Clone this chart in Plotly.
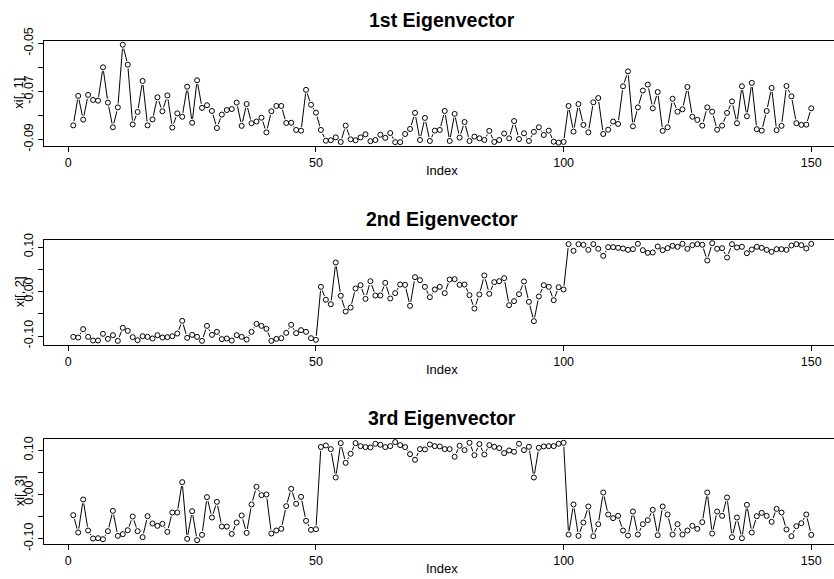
import plotly.graph_objects as go

index = list(range(1, 151))

ev1 = [
    -0.0842, -0.0719, -0.0818, -0.0715, -0.0736, -0.0739, -0.0600, -0.0747, -0.0850, -0.0767,
    -0.0506, -0.0589, -0.0838, -0.0786, -0.0657, -0.0842, -0.0817, -0.0725, -0.0783, -0.0717,
    -0.0851, -0.0792, -0.0806, -0.0681, -0.0831, -0.0654, -0.0769, -0.0758, -0.0782, -0.0853,
    -0.0797, -0.0778, -0.0774, -0.0747, -0.0844, -0.0753, -0.0833, -0.0826, -0.0810, -0.0871,
    -0.0783, -0.0761, -0.0761, -0.0832, -0.0831, -0.0861, -0.0864, -0.0694, -0.0756, -0.0789,
    -0.0861, -0.0906, -0.0904, -0.0892, -0.0911, -0.0843, -0.0900, -0.0904, -0.0892, -0.0879,
    -0.0908, -0.0903, -0.0881, -0.0894, -0.0874, -0.0912, -0.0912, -0.0878, -0.0857, -0.0790,
    -0.0903, -0.0811, -0.0907, -0.0864, -0.0861, -0.0782, -0.0907, -0.0794, -0.0893, -0.0828,
    -0.0907, -0.0889, -0.0896, -0.0903, -0.0865, -0.0911, -0.0903, -0.0876, -0.0896, -0.0824,
    -0.0899, -0.0875, -0.0907, -0.0869, -0.0850, -0.0882, -0.0864, -0.0910, -0.0914, -0.0911,
    -0.0761, -0.0868, -0.0753, -0.0840, -0.0871, -0.0746, -0.0728, -0.0878, -0.0860, -0.0826,
    -0.0836, -0.0679, -0.0617, -0.0846, -0.0767, -0.0697, -0.0672, -0.0771, -0.0703, -0.0865,
    -0.0850, -0.0731, -0.0785, -0.0775, -0.0682, -0.0806, -0.0819, -0.0843, -0.0767, -0.0785,
    -0.0860, -0.0843, -0.0790, -0.0742, -0.0833, -0.0679, -0.0804, -0.0665, -0.0858, -0.0864,
    -0.0782, -0.0686, -0.0862, -0.0844, -0.0678, -0.0721, -0.0833, -0.0840, -0.0839, -0.0771,
]

ev2 = [
    -0.1019, -0.1034, -0.0846, -0.1019, -0.1101, -0.1101, -0.0951, -0.1064, -0.0981, -0.1109,
    -0.0816, -0.0884, -0.1026, -0.1094, -0.1004, -0.1019, -0.1056, -0.0981, -0.1034, -0.1026,
    -0.1004, -0.0944, -0.0659, -0.1041, -0.0974, -0.1019, -0.1109, -0.0772, -0.0974, -0.0906,
    -0.1071, -0.1056, -0.1101, -0.0981, -0.1019, -0.1079, -0.0906, -0.0727, -0.0772, -0.0839,
    -0.1109, -0.1064, -0.1049, -0.0929, -0.0749, -0.0936, -0.0869, -0.0906, -0.1049, -0.1086,
    0.0105, -0.0185, -0.0285, 0.0652, -0.0097, -0.0449, -0.0360, 0.0067, 0.0142, -0.0165,
    0.0232, -0.0090, -0.0090, 0.0195, -0.0157, -0.0037, 0.0157, 0.0150, -0.0322, 0.0322,
    0.0255, 0.0105, -0.0127, 0.0045, 0.0105, -0.0037, 0.0270, 0.0277, 0.0150, 0.0157,
    -0.0082, -0.0382, -0.0067, 0.0360, -0.0052, 0.0210, 0.0232, 0.0300, -0.0307, -0.0217,
    -0.0060, 0.0225, -0.0232, -0.0667, -0.0112, 0.0142, 0.0105, -0.0195, 0.0097, 0.0045,
    0.1064, 0.0914, 0.1064, 0.1049, 0.0936, 0.1064, 0.0959, 0.0801, 0.0996, 0.0996,
    0.0981, 0.0966, 0.0936, 0.0951, 0.1071, 0.0929, 0.0869, 0.0876, 0.1011, 0.0929,
    0.0974, 0.1026, 0.1004, 0.1071, 0.0959, 0.1041, 0.1064, 0.1049, 0.0697, 0.1086,
    0.0959, 0.0974, 0.0764, 0.1064, 0.0989, 0.1004, 0.0861, 0.0944, 0.1004, 0.0981,
    0.0936, 0.0891, 0.0951, 0.0951, 0.0936, 0.1034, 0.1064, 0.1041, 0.0966, 0.1071,
]

ev3 = [
    -0.0468, -0.0860, -0.0113, -0.0815, -0.0996, -0.0989, -0.1011, -0.0830, -0.0370, -0.0936,
    -0.0898, -0.0808, -0.0498, -0.0830, -0.0966, -0.0491, -0.0657, -0.0709, -0.0664, -0.0845,
    -0.0408, -0.0408, 0.0279, -0.1004, -0.0377, -0.1034, -0.0913, -0.0060, -0.0521, -0.0166,
    -0.0725, -0.0725, -0.0891, -0.0634, -0.0475, -0.0868, -0.0226, 0.0174, -0.0015, 0.0000,
    -0.0883, -0.0815, -0.0777, -0.0264, 0.0128, -0.0211, -0.0053, -0.0596, -0.0800, -0.0785,
    0.1075, 0.1109, 0.1026, 0.0385, 0.1162, 0.0717, 0.0921, 0.1162, 0.1094, 0.1072,
    0.1064, 0.1147, 0.1125, 0.1072, 0.1094, 0.1185, 0.1117, 0.1072, 0.0913, 0.0785,
    0.1026, 0.1019, 0.1132, 0.1094, 0.1087, 0.1026, 0.1026, 0.0853, 0.1102, 0.1004,
    0.1170, 0.0891, 0.1140, 0.0906, 0.1117, 0.1079, 0.1049, 0.0936, 0.0996, 0.0966,
    0.1147, 0.1004, 0.1079, 0.0385, 0.1057, 0.1087, 0.1094, 0.1094, 0.1147, 0.1170,
    -0.0906, -0.0226, -0.0936, -0.0634, -0.0272, -0.0943, -0.0672, 0.0045, -0.0453, -0.0536,
    -0.0483, -0.0815, -0.0928, -0.0385, -0.0906, -0.0672, -0.0581, -0.0347, -0.0921, -0.0272,
    -0.0453, -0.0906, -0.0672, -0.0906, -0.0815, -0.0709, -0.0777, -0.0626, 0.0045, -0.0883,
    -0.0385, -0.0483, -0.0068, -0.0966, -0.0521, -0.0989, -0.0234, -0.0860, -0.0491, -0.0415,
    -0.0483, -0.0619, -0.0325, -0.0408, -0.0792, -0.0943, -0.0717, -0.0649, -0.0453, -0.0913,
]

titles = ["1st Eigenvector", "2nd Eigenvector", "3rd Eigenvector"]
ylabels = ["xi[, 1]", "xi[, 2]", "xi[, 3]"]
x_ticks = [0, 50, 100, 150]
y_ticks = [
    ([-0.09, -0.08, -0.07, -0.06, -0.05], ["-0.09", "", "-0.07", "", "-0.05"]),
    ([-0.10, -0.05, 0.00, 0.05, 0.10], ["-0.10", "", "0.00", "", "0.10"]),
    ([-0.10, -0.05, 0.00, 0.05, 0.10], ["-0.10", "", "0.00", "", "0.10"]),
]
series = [ev1, ev2, ev3]

W, H = 834, 579
FONT = "Liberation Sans, Arial, Helvetica, sans-serif"
# panel boxes in pixels (top, bottom)
boxes = [(41.0, 146.3), (239.7, 345.0), (438.7, 544.0)]
y_ranges = [[-0.09292, -0.04904], [-0.1202, 0.1164], [-0.1120, 0.1262]]
left_px = 44.0
x_range = [(left_px - 68.3) / 4.953, (W - 68.3) / 4.953]

fig = go.Figure()
layout = dict(
    template="none",
    width=W, height=H, margin=dict(l=0, r=0, t=0, b=0, pad=0, autoexpand=False),
    paper_bgcolor="white", plot_bgcolor="white", showlegend=False,
    font=dict(family=FONT, size=12.5, color="black"),
)
annotations = []
for k in range(3):
    sfx = "" if k == 0 else str(k + 1)
    top, bot = boxes[k]
    xa = "x" + sfx
    ya = "y" + sfx
    # lines
    fig.add_trace(go.Scatter(x=index, y=series[k], mode="lines",
                             line=dict(color="black", width=1),
                             xaxis=xa, yaxis=ya, hoverinfo="skip"))
    # white halo to leave gaps like R's type="b"
    fig.add_trace(go.Scatter(x=index, y=series[k], mode="markers",
                             marker=dict(symbol="circle", size=8, color="white",
                                         line=dict(width=0)),
                             xaxis=xa, yaxis=ya, hoverinfo="skip"))
    fig.add_trace(go.Scatter(x=index, y=series[k], mode="markers",
                             marker=dict(symbol="circle-open", size=5, color="black",
                                         line=dict(width=1, color="black")),
                             xaxis=xa, yaxis=ya))
    layout["xaxis" + sfx] = dict(
        domain=[left_px / W, 1.0], range=x_range, anchor=ya, automargin=False,
        tickmode="array", tickvals=x_ticks, ticktext=[str(v) for v in x_ticks],
        ticks="outside", ticklen=5, tickwidth=1, tickcolor="black",
        showline=True, linecolor="black", linewidth=1, mirror=True,
        showgrid=False, zeroline=False,
        tickfont=dict(family=FONT, size=12.5, color="black"),
    )
    layout["yaxis" + sfx] = dict(
        domain=[1 - bot / H, 1 - top / H], range=y_ranges[k], anchor=xa, automargin=False,
        tickmode="array", tickvals=y_ticks[k][0], ticktext=y_ticks[k][1],
        ticks="outside", ticklen=5, tickwidth=1, tickcolor="black",
        tickangle=-90,
        showline=True, linecolor="black", linewidth=1, mirror=False,
        showgrid=False, zeroline=False,
        tickfont=dict(family=FONT, size=12.5, color="black"),
    )
    annotations.append(dict(text="<b>" + titles[k] + "</b>", xref="paper", yref="paper",
                            x=442 / W, y=1 - (top - 21) / H, xanchor="center", yanchor="middle",
                            showarrow=False, font=dict(family=FONT, size=19.5, color="black")))
    annotations.append(dict(text="Index", xref="paper", yref="paper",
                            x=442 / W, y=1 - (bot + 24) / H, xanchor="center", yanchor="middle",
                            showarrow=False, font=dict(family=FONT, size=13, color="black")))
    annotations.append(dict(text=ylabels[k], xref="paper", yref="paper",
                            x=19 / W, y=1 - ((top + bot) / 2) / H, xanchor="center", yanchor="middle",
                            textangle=-90,
                            showarrow=False, font=dict(family=FONT, size=13, color="black")))

layout["annotations"] = annotations
fig.update_layout(**layout)
fig.write_html("out.html")
